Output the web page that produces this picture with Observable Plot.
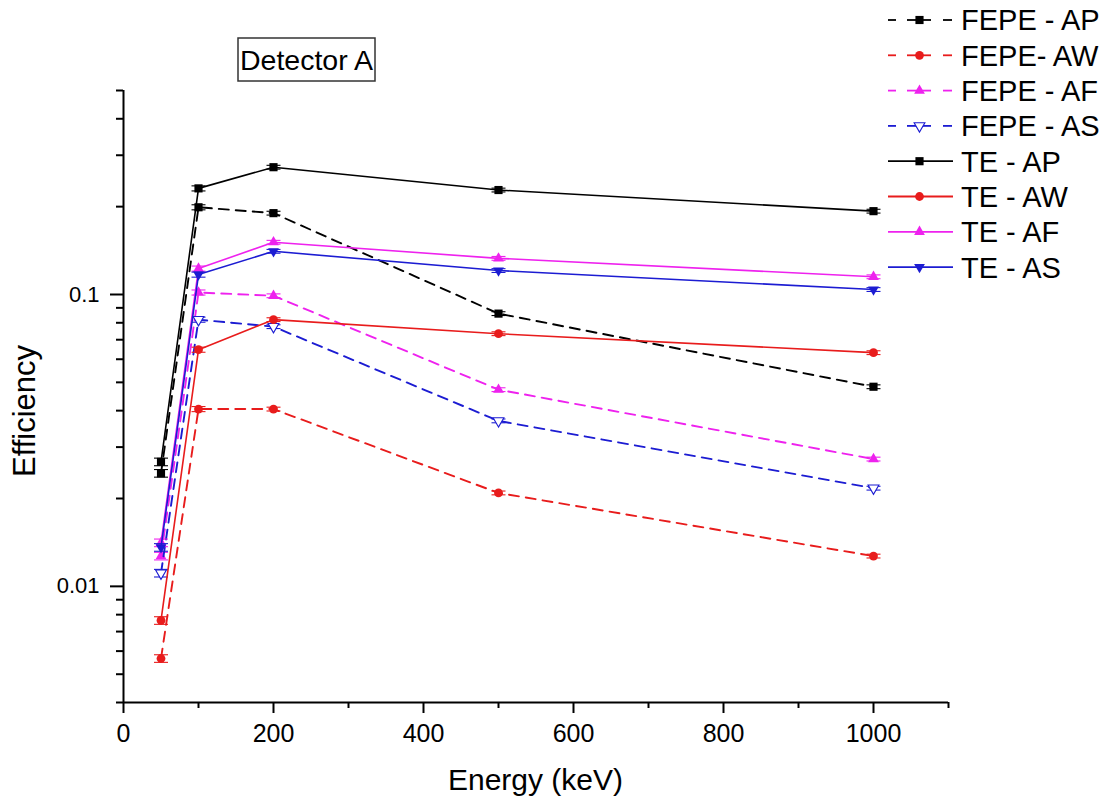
<!DOCTYPE html>
<html>
<head>
<meta charset="utf-8">
<script src="https://cdn.jsdelivr.net/npm/d3@7"></script>
<script src="https://cdn.jsdelivr.net/npm/@observablehq/plot@0.6"></script>
<style>
  html, body { margin: 0; padding: 0; background: #fff; }
  #chart { width: 1110px; height: 798px; }
</style>
</head>
<body>
<div id="chart"></div>
<script>
// ---- data ----
const energies = [50, 100, 200, 500, 1000];
const fepeAP = [0.0244, 0.199, 0.190, 0.086, 0.0483];
const fepeAW = [0.00566, 0.0405, 0.0405, 0.0209, 0.0127];
const fepeAF = [0.0127, 0.1016, 0.099, 0.0472, 0.0273];
const fepeAS = [0.0111, 0.082, 0.0776, 0.0369, 0.0217];
const teAP = [0.0267, 0.231, 0.273, 0.228, 0.193];
const teAW = [0.00764, 0.0647, 0.082, 0.0734, 0.0632];
const teAF = [0.0141, 0.1227, 0.151, 0.133, 0.115];
const teAS = [0.0136, 0.117, 0.1406, 0.1208, 0.104];
const relErr = [0.03, 0.02, 0.015, 0.015, 0.015];
const seriesNames = ["FEPE - AP", "FEPE- AW", "FEPE - AF", "FEPE - AS", "TE - AP", "TE - AW", "TE - AF", "TE - AS"];
const seriesValues = [fepeAP, fepeAW, fepeAF, fepeAS, teAP, teAW, teAF, teAS];
const xMajorTicks = [0, 200, 400, 600, 800, 1000];
const xMinorTicks = [100, 300, 500, 700, 900, 1100];
const yMajorTicks = [0.01, 0.1];
const yMinorTicks = [0.004, 0.005, 0.006, 0.007, 0.008, 0.009, 0.02, 0.03, 0.04, 0.05, 0.06, 0.07, 0.08, 0.09, 0.2, 0.3, 0.4, 0.5];
const titleText = "Detector A";
const xLabel = "Energy (keV)";
const yLabel = "Efficiency";

// ---- styles ----
const BLACK = "#000000", RED = "#e81c1c", MAG = "#ee22ee", BLUE = "#1c1cd2";
const styles = [
  {color: BLACK, symbol: "square", dashed: true},
  {color: RED, symbol: "circle", dashed: true},
  {color: MAG, symbol: "triangle", dashed: true},
  {color: BLUE, symbol: "triangle", dashed: true, open: true, down: true},
  {color: BLACK, symbol: "square", dashed: false},
  {color: RED, symbol: "circle", dashed: false},
  {color: MAG, symbol: "triangle", dashed: false},
  {color: BLUE, symbol: "triangle", dashed: false, down: true}
];
const symR = {square: 4.6, circle: 4.4, triangle: 4.0};
const capSymbol = {draw(ctx, size) { const w = Math.sqrt(size / Math.PI); ctx.moveTo(-w, 0); ctx.lineTo(w, 0); }};

const FONT = "'Liberation Sans', Arial, sans-serif";

const marks = [];
seriesValues.forEach((vals, s) => {
  const st = styles[s];
  const rows = energies.map((x, i) => ({x, y: vals[i], lo: vals[i] * (1 - relErr[i]), hi: vals[i] * (1 + relErr[i])}));
  marks.push(Plot.line(rows, {x: "x", y: "y", stroke: st.color, strokeWidth: st.dashed ? 1.9 : 1.6,
    strokeDasharray: st.dashed ? "10,7" : null}));
  marks.push(Plot.dot(rows, {x: "x", y: "lo", symbol: capSymbol, r: 7, stroke: st.color, strokeWidth: 1.1}));
  marks.push(Plot.dot(rows, {x: "x", y: "hi", symbol: capSymbol, r: 7, stroke: st.color, strokeWidth: 1.1}));
  marks.push(Plot.dot(rows, {x: "x", y: "y", symbol: st.symbol, r: symR[st.symbol],
    fill: st.open ? "white" : st.color, stroke: st.open ? st.color : "none", strokeWidth: 1.1,
    rotate: st.down ? 180 : 0}));
});

const plot = Plot.plot({
  width: 1110,
  height: 798,
  marginTop: 90,
  marginBottom: 96,
  marginLeft: 123,
  marginRight: 162,
  style: {fontFamily: FONT, background: "white", color: "black"},
  x: {domain: [0, 1100]},
  y: {type: "log", domain: [0.004, 0.5]},
  marks: [
    Plot.axisY({ticks: yMinorTicks, tickSize: 7, tickFormat: () => "", strokeWidth: 2, label: null}),
    Plot.axisY({ticks: yMajorTicks, tickSize: 13, tickPadding: 11, tickFormat: d => String(d), strokeWidth: 2, fontSize: 22, label: null}),
    Plot.axisX({ticks: xMinorTicks, tickSize: 6, tickFormat: () => "", strokeWidth: 2, label: null}),
    Plot.axisX({ticks: xMajorTicks, tickSize: 11, tickPadding: 11, tickFormat: d => String(d), strokeWidth: 2, fontSize: 25, label: null}),
    Plot.ruleX([0], {strokeWidth: 2}),
    Plot.ruleY([0.004], {strokeWidth: 2}),
    ...marks
  ]
});
document.getElementById("chart").appendChild(plot);

// ---- extra text: title box, axis labels, legend ----
const svg = d3.select(plot);
const xs = plot.scale("x");
const xr = xs.range;

function addText(sel, txt, size, anchor) {
  return sel.append("text").text(txt)
    .style("font-family", FONT).style("font-size", size + "px")
    .style("text-anchor", anchor).style("fill", "black");
}

// title box
const tg = svg.append("g");
tg.append("rect").attr("x", 238).attr("y", 38).attr("width", 137).attr("height", 43)
  .attr("fill", "white").attr("stroke", "#333").attr("stroke-width", 1.5);
addText(tg, titleText, 28.5, "middle").attr("x", 306.5).attr("y", 70);

// axis labels
addText(svg, xLabel, 30, "middle").attr("x", (xr[0] + xr[1]) / 2).attr("y", 790);
addText(svg, yLabel, 31, "middle").attr("transform", "translate(35,411) rotate(-90)");

// legend
const lg = svg.append("g");
const sym = {square: d3.symbolSquare, circle: d3.symbolCircle, triangle: d3.symbolTriangle};
seriesNames.forEach((name, i) => {
  const st = styles[i];
  const cy = 20 + i * 35.3;
  const row = lg.append("g").attr("transform", `translate(0,${cy})`);
  const segs = st.dashed ? [[888, 896], [907, 931], [943, 952]] : [[888, 953]];
  segs.forEach(([a, b]) => row.append("line").attr("x1", a).attr("x2", b).attr("y1", 0).attr("y2", 0)
    .attr("stroke", st.color).attr("stroke-width", 1.8));
  const r = symR[st.symbol];
  row.append("path").attr("d", d3.symbol(sym[st.symbol], Math.PI * r * r)())
    .attr("transform", `translate(919.5,0) rotate(${st.down ? 180 : 0})`)
    .attr("fill", st.open ? "white" : st.color).attr("stroke", st.open ? st.color : "none").attr("stroke-width", 1.1);
  addText(row, name, 29, "start").attr("x", 961).attr("y", 0).attr("dy", "0.36em");
});
</script>
</body>
</html>
